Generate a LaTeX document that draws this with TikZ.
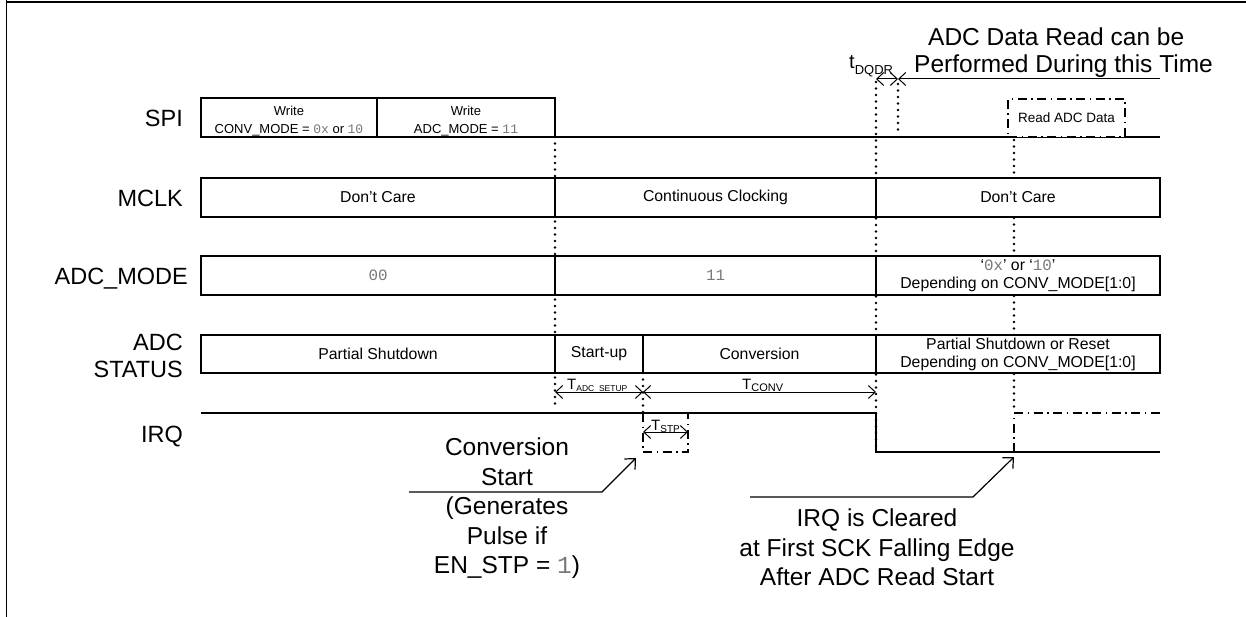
\documentclass[tikz,border=0pt]{standalone}
\usepackage{fontspec}
\setmainfont{Liberation Sans}
\newfontfamily\monof{Liberation Mono}
\usetikzlibrary{arrows.meta}
\definecolor{monogray}{RGB}{120,120,120}
\newcommand\mono[1]{{\monof\color{monogray}#1}}
\tikzset{
 cell/.style={draw, line width=1.2pt, fill=white, inner sep=0pt, align=center, font=\fontsize{15.8}{18}\selectfont},
 spicell/.style={cell, font=\fontsize{13}{18}\selectfont},
 lbl/.style={anchor=base east, align=right, inner sep=0pt, font=\fontsize{23.5}{27}\selectfont},
 dotv/.style={line width=2.6pt, line cap=round, dash pattern=on 0pt off 6.5pt},
 dashdot/.style={line width=2.3pt, dash pattern=on 9pt off 4.5pt on 1.5pt off 4.5pt},
 sig/.style={line width=1.2pt},
 dimarrow/.style={line width=1pt, {Straight Barb[length=7pt,width=13pt]}-{Straight Barb[length=7pt,width=13pt]}},
 leftarrow/.style={line width=1pt, {Straight Barb[length=7pt,width=13pt]}-},
 callout/.style={line width=1.2pt, -{Straight Barb[length=8pt,width=15pt]}},
 big/.style={align=center, inner sep=0pt, font=\fontsize{24.5}{29.5}\selectfont},
 tlabel/.style={inner sep=0pt, anchor=base west, font=\fontsize{15}{16}\selectfont},
}
\begin{document}
\begin{tikzpicture}[x=1pt,y=-1pt]
\useasboundingbox (0,0) rectangle (1246,617);
% frame
\draw[line width=1.3pt] (6.5,0) -- (6.5,617);
\draw[line width=1.3pt] (6,2) -- (1246,2);

% dotted verticals
\draw[dotv] (555,137) -- (555,408);
\draw[dotv] (643,373) -- (643,413);
\draw[dotv] (876,82) -- (876,452);
\draw[dotv] (898,84) -- (898,130);
\draw[dotv] (1014,140) -- (1014,413);

% row labels
\node[lbl] (lspi) at (183,127) {SPI};
\node[lbl] (lmclk) at (183,207) {MCLK};
\node[lbl] (lmode) at (188,285) {ADC\_MODE};
\node[lbl] (lstat) at (183,377) {ADC\\STATUS};
\node[lbl] (lirq) at (183,442) {IRQ};

% SPI row
\draw[sig] (555,137) -- (1160,137);
\node[spicell, minimum width=176pt, minimum height=39pt] (spi1) at (289,117.5) {\rule{0pt}{17pt}Write\\CONV\_MODE = \mono{0x} or \mono{10}};
\node[spicell, minimum width=178pt, minimum height=39pt] (spi2) at (466,117.5) {\rule{0pt}{17pt}Write\\ADC\_MODE = \mono{11}};
\node[draw, dashdot, fill=white, minimum width=117pt, minimum height=38pt, inner sep=0pt, font=\fontsize{13.5}{15}\selectfont] (rd) at (1066.5,118) {Read ADC Data};

% MCLK row
\node[cell, minimum width=354pt, minimum height=39pt] (m1) at (378,197.5) {Don’t Care};
\node[cell, minimum width=321pt, minimum height=39pt] (m2) at (715.5,197.5) {Continuous Clocking};
\node[cell, minimum width=284pt, minimum height=39pt] (m3) at (1018,197.5) {Don’t Care};

% ADC_MODE row
\node[cell, minimum width=354pt, minimum height=39pt] (a1) at (378,275.5) {\mono{00}};
\node[cell, minimum width=321pt, minimum height=39pt] (a2) at (715.5,275.5) {\mono{11}};
\node[cell, minimum width=284pt, minimum height=39pt] (a3) at (1018,275.5) {‘\mono{0x}’ or ‘\mono{10}’\\Depending on CONV\_MODE[1:0]};

% ADC STATUS row
\node[cell, minimum width=354pt, minimum height=38pt] (s1) at (378,354) {Partial Shutdown};
\node[cell, minimum width=88pt, minimum height=38pt] (s2) at (599,354) {Start-up};
\node[cell, minimum width=233pt, minimum height=38pt] (s3) at (759.5,354) {Conversion};
\node[cell, minimum width=284pt, minimum height=38pt] (s4) at (1018,354) {Partial Shutdown or Reset\\Depending on CONV\_MODE[1:0]};

% timing arrows
\coordinate (ta) at (555,392);
\coordinate (tb) at (643,392);
\coordinate (tc) at (876,392);
\draw[dimarrow] (ta) -- (tb);
\draw[dimarrow] (tb) -- (tc);
\node[tlabel] (tsetup) at (567,389) {T{\fontsize{8.5}{9}\selectfont\raisebox{-2pt}{ADC\_SETUP}}};
\node[tlabel] (tconv) at (742,389) {T{\fontsize{11}{12}\selectfont\raisebox{-2.5pt}{CONV}}};

% IRQ
\draw[sig] (201,413) -- (876,413) -- (876,452) -- (1160,452);
\draw[dashdot] (643,413) -- (643,452) -- (688,452) -- (688,413);
\draw[dashdot] (1014,452) -- (1014,413) -- (1160,413);
\coordinate (sa) at (643,432);
\coordinate (sb) at (688,432);
\draw[dimarrow] (sa) -- (sb);
\node[tlabel] (tstp) at (651,430) {T{\fontsize{10}{11}\selectfont\raisebox{-2pt}{STP}}};

% tDQDR and read window
\coordinate (da) at (876,79);
\coordinate (db) at (898,79);
\coordinate (dc) at (1160,79);
\draw[dimarrow] (da) -- (db);
\draw[leftarrow] (db) -- (dc);
\node[inner sep=0pt, anchor=base west] (tdqdr) at (849,69) {{\fontsize{20}{20}\selectfont t}{\fontsize{13}{14}\selectfont\raisebox{-6pt}{DQDR}}};
\node[big, anchor=base west] (tt1) at (928,46) {ADC Data Read can be};
\node[big, anchor=base west] (tt2) at (914,73) {Performed During this Time};

% callouts
\coordinate (c1a) at (409,492);
\coordinate (c1b) at (602,492);
\coordinate (c1c) at (636,458);
\draw[callout] (c1a) -- (c1b) -- (c1c);
\node[big, anchor=north] (conv) at (507,438) {Conversion\\Start\\(Generates\\Pulse if\\EN\_STP = \mono{1})};

\coordinate (c2a) at (750,497);
\coordinate (c2b) at (973,497);
\coordinate (c2c) at (1014,457);
\draw[callout] (c2a) -- (c2b) -- (c2c);
\node[big, anchor=north] (clr) at (877,509) {IRQ is Cleared\\at First SCK Falling Edge\\After ADC Read Start};
\end{tikzpicture}
\end{document}
